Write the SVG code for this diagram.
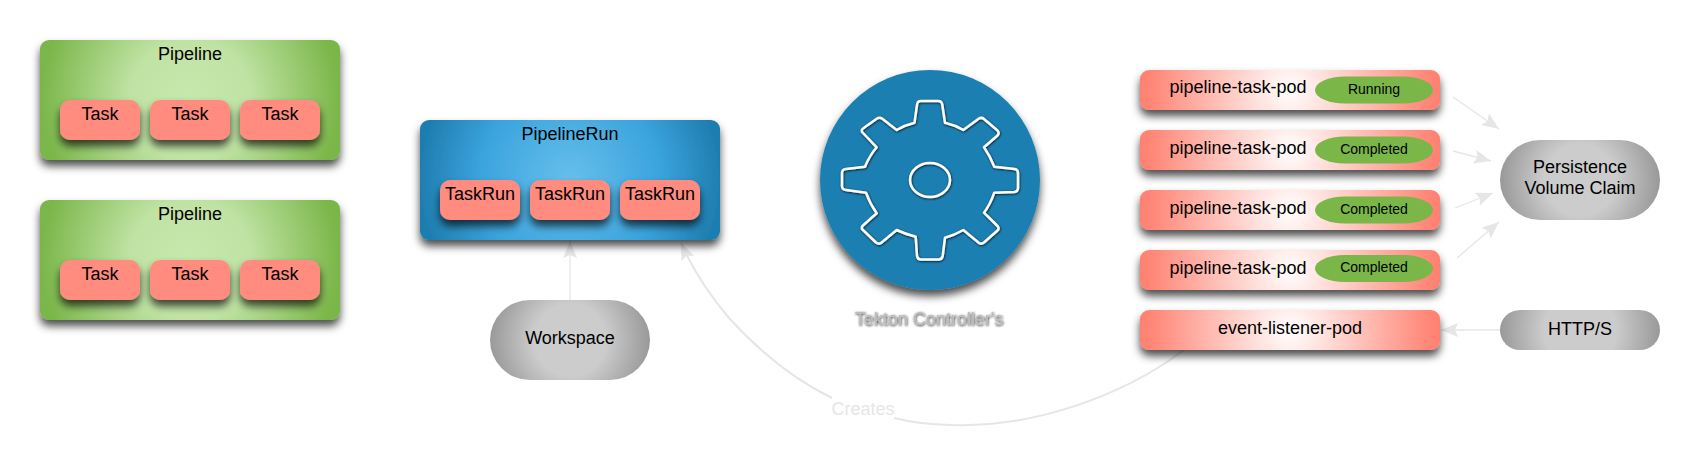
<svg xmlns="http://www.w3.org/2000/svg" width="1700" height="467" viewBox="0 0 1700 467">
<style>
text{font-family:"Liberation Sans",Arial,sans-serif;font-size:18px;fill:#000;text-anchor:middle}
.task{fill:#ff8c7f;filter:url(#sh)}
.pl{fill:url(#green);filter:url(#sh)}
.pod{fill:url(#pink);filter:url(#sh)}
.pill{fill:#7ab648}
.st{font-size:14px}
.c{fill:none;stroke:#e6e6e6;stroke-width:1.3;marker-end:url(#arr)}
</style>
<defs>
<filter id="sh" x="-20%" y="-40%" width="140%" height="200%"><feDropShadow dx="0" dy="6" stdDeviation="4" flood-color="#000" flood-opacity=".7"/></filter>
<filter id="ts" x="-20%" y="-30%" width="140%" height="170%"><feDropShadow dx="0.500" dy="0.800" stdDeviation="0.900" flood-color="#000" flood-opacity=".9"/></filter>
<radialGradient id="green" gradientTransform="translate(.5 .5) scale(1 2.5) translate(-.5 -.5)"><stop offset="0" stop-color="#c7e8ac"/><stop offset=".4" stop-color="#c0e3a4"/><stop offset="1" stop-color="#7ab648"/></radialGradient>
<radialGradient id="blue" gradientTransform="translate(.5 .5) scale(1 2.5) translate(-.5 -.5)"><stop offset="0" stop-color="#67bfec"/><stop offset=".6" stop-color="#3ba4dd"/><stop offset="1" stop-color="#1f7eb0"/></radialGradient>
<radialGradient id="pink" gradientTransform="translate(.5 .5) scale(1 7.5) translate(-.5 -.5)"><stop offset="0" stop-color="#fff"/><stop offset=".9" stop-color="#ff8a7b"/><stop offset="1" stop-color="#ff8070"/></radialGradient>
<radialGradient id="g2" gradientTransform="translate(.5 .5) scale(1 2) translate(-.5 -.5)"><stop offset=".45" stop-color="#ccc"/><stop offset="1" stop-color="#999"/></radialGradient>
<radialGradient id="g4" gradientTransform="translate(.5 .5) scale(1 4) translate(-.5 -.5)"><stop offset=".45" stop-color="#ccc"/><stop offset="1" stop-color="#999"/></radialGradient>
<marker id="arr" markerUnits="userSpaceOnUse" markerWidth="17" markerHeight="14" refX="17" refY="7" orient="auto"><path d="M0 0L17 7L0 14L3 7Z" fill="#e6e6e6"/></marker>
</defs>
<g id="connectors">
<path class="c" d="M570 300V241"/>
<path class="c" style="stroke-width:2" d="M1184 350C1120 398 1030 428 950 425C930 424.500 910 422 894 418M832 398C795 380 760 352 729 318C707 292 692 268 681 243"/>
<path class="c" d="M1453 97L1499 129"/>
<path class="c" d="M1453 151L1491 161"/>
<path class="c" d="M1455 208L1493 193"/>
<path class="c" d="M1457 258L1499 222"/>
<path class="c" d="M1500 330H1441"/>
<text x="863" y="415" style="fill:#e6e6e6">Creates</text>
</g>
<g id="pipeline-1">
<rect class="pl" x="40" y="40" width="300" height="120" rx="9"/>
<text x="190" y="60">Pipeline</text>
<rect class="task" x="60" y="100" width="80" height="40" rx="10"/><text x="100" y="120">Task</text>
<rect class="task" x="150" y="100" width="80" height="40" rx="10"/><text x="190" y="120">Task</text>
<rect class="task" x="240" y="100" width="80" height="40" rx="10"/><text x="280" y="120">Task</text>
</g>
<g id="pipeline-2">
<rect class="pl" x="40" y="200" width="300" height="120" rx="9"/>
<text x="190" y="220">Pipeline</text>
<rect class="task" x="60" y="260" width="80" height="40" rx="10"/><text x="100" y="280">Task</text>
<rect class="task" x="150" y="260" width="80" height="40" rx="10"/><text x="190" y="280">Task</text>
<rect class="task" x="240" y="260" width="80" height="40" rx="10"/><text x="280" y="280">Task</text>
</g>
<g id="pipelinerun">
<rect x="420" y="120" width="300" height="120" rx="9" fill="url(#blue)" filter="url(#sh)"/>
<text x="570" y="140">PipelineRun</text>
<rect class="task" x="440" y="180" width="80" height="40" rx="10"/><text x="480" y="200">TaskRun</text>
<rect class="task" x="530" y="180" width="80" height="40" rx="10"/><text x="570" y="200">TaskRun</text>
<rect class="task" x="620" y="180" width="80" height="40" rx="10"/><text x="660" y="200">TaskRun</text>
</g>
<g id="workspace">
<rect x="490" y="300" width="160" height="80" rx="40" fill="url(#g2)"/>
<text x="570" y="344">Workspace</text>
</g>
<g id="controller">
<circle cx="930" cy="180" r="110" fill="#1f7fb2" filter="url(#sh)"/>
<g fill="none" stroke="#fff" stroke-width="2.500" stroke-linejoin="round" filter="url(#ts)">
<path d="M914.500 122.700L917 105Q917.300 101 921 101L938 101Q942 101 942.300 105L945 122.700Q955 125 963.300 130L979 118.500Q981.500 117 984 119L997.500 130.500Q999.700 133 997.500 135.500L984 147.300Q990 156 994.300 166.700L1014.500 169Q1018 169.500 1018 173L1018 188Q1018 191.500 1014.500 192L994.300 192.700Q990 205 984 212.700L997.500 226Q999.700 228.500 997.500 230.500L984 242.500Q981.500 244.500 979 243L963.300 230Q955 235 945 237.700L942.700 256Q942 259.500 938.500 259.500L921 259.500Q917.500 259.500 917 256L915.700 236.700Q905 234 896.700 230L881 243Q878.500 244.500 876 242.500L863 230Q860.500 228 863 225.500L876.700 213.300Q870 204 866 192.700L846 190Q842 189.500 842 186L842 173Q842 169.500 846 169L865 166.700Q870 155 876.700 147.300L863 133Q860.500 130.500 863 128.500L877 118.500Q879.500 117 882 118.500L896.700 130Q905 125 914.500 122.700Z"/>
<ellipse cx="930" cy="180" rx="20" ry="17"/>
</g>
<text x="929" y="325" style="font-size:18px;fill:#bbb" filter="url(#ts)">Tekton Controller's</text>
</g>
<g id="pod-1">
<rect class="pod" x="1140" y="70" width="300" height="40" rx="9"/>
<text x="1238" y="93">pipeline-task-pod</text>
<rect class="pill" x="1315" y="76.500" width="118" height="27" rx="30" ry="13.500"/><text class="st" x="1374" y="93.500">Running</text>
</g>
<g id="pod-2">
<rect class="pod" x="1140" y="130" width="300" height="40" rx="9"/>
<text x="1238" y="153.500">pipeline-task-pod</text>
<rect class="pill" x="1315" y="136.500" width="118" height="27" rx="30" ry="13.500"/><text class="st" x="1374" y="153.500">Completed</text>
</g>
<g id="pod-3">
<rect class="pod" x="1140" y="190" width="300" height="40" rx="9"/>
<text x="1238" y="213.500">pipeline-task-pod</text>
<rect class="pill" x="1315" y="196.500" width="118" height="27" rx="30" ry="13.500"/><text class="st" x="1374" y="213.500">Completed</text>
</g>
<g id="pod-4">
<rect class="pod" x="1140" y="250" width="300" height="40" rx="9"/>
<text x="1238" y="273.500">pipeline-task-pod</text>
<rect class="pill" x="1315" y="255" width="118" height="27" rx="30" ry="13.500"/><text class="st" x="1374" y="272">Completed</text>
</g>
<g id="event-listener-pod">
<rect class="pod" x="1140" y="310" width="300" height="40" rx="9"/>
<text x="1290" y="333.500">event-listener-pod</text>
</g>
<g id="pvc">
<rect x="1500" y="140" width="160" height="80" rx="40" fill="url(#g2)"/>
<text x="1580" y="173">Persistence</text>
<text x="1580" y="194">Volume Claim</text>
</g>
<g id="https">
<rect x="1500" y="310" width="160" height="40" rx="20" fill="url(#g4)"/>
<text x="1580" y="335">HTTP/S</text>
</g>
</svg>
